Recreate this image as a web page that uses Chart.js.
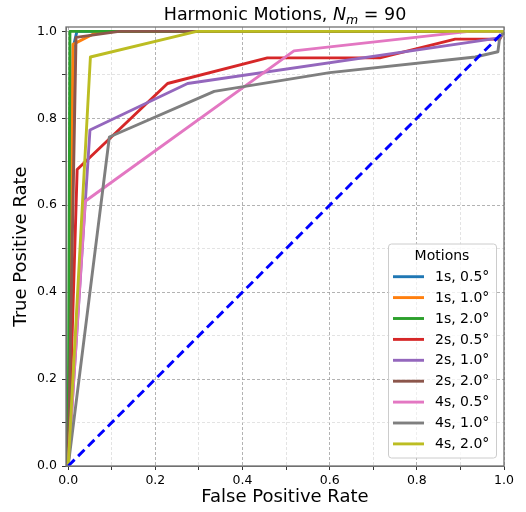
<!DOCTYPE html>
<html><head><meta charset="utf-8">
<script src="https://cdn.jsdelivr.net/npm/chart.js@4"></script>
<style>html,body{margin:0;padding:0;background:#fff;}#wrap{width:526px;height:512px;}</style>
</head><body><div id="wrap"><canvas id="c" width="526" height="512"></canvas></div>
<script>
// ---- data ----
const SERIES_LABELS = ['1s, 0.5°','1s, 1.0°','1s, 2.0°','2s, 0.5°','2s, 1.0°','2s, 2.0°','4s, 0.5°','4s, 1.0°','4s, 2.0°'];
const FPR_1S_05 = [0, 0.012, 0.02, 1.0];
const TPR_1S_05 = [0, 0.965, 1.0, 1.0];
const FPR_1S_10 = [0, 0.011, 0.06, 0.11, 1.0];
const TPR_1S_10 = [0, 0.97, 0.995, 1.0, 1.0];
const FPR_1S_20 = [0, 0.004, 1.0];
const TPR_1S_20 = [0, 1.0, 1.0];
const FPR_2S_05 = [0, 0.0206, 0.228, 0.457, 0.715, 0.888, 0.99, 1.0];
const TPR_2S_05 = [0, 0.682, 0.88, 0.939, 0.939, 0.982, 0.982, 1.0];
const FPR_2S_10 = [0, 0.05, 0.274, 0.99, 1.0];
const TPR_2S_10 = [0, 0.773, 0.88, 0.985, 1.0];
const FPR_2S_20 = [0, 0.018, 0.117, 1.0];
const TPR_2S_20 = [0, 0.986, 1.0, 1.0];
const FPR_4S_05 = [0, 0.039, 0.518, 0.92, 1.0];
const TPR_4S_05 = [0, 0.609, 0.955, 1.0, 1.0];
const FPR_4S_10 = [0, 0.0945, 0.335, 0.6, 0.934, 0.986, 0.99, 1.0];
const TPR_4S_10 = [0, 0.757, 0.862, 0.905, 0.941, 0.953, 0.985, 1.0];
const FPR_4S_20 = [0, 0.051, 0.295, 1.0];
const TPR_4S_20 = [0, 0.941, 1.0, 1.0];
const CHANCE_X = [0, 1];
const CHANCE_Y = [0, 1];
const TICK_VALUES = [0, 0.1, 0.2, 0.3, 0.4, 0.5, 0.6, 0.7, 0.8, 0.9, 1.0];
const TICK_LABELS = ['0.0', '', '0.2', '', '0.4', '', '0.6', '', '0.8', '', '1.0'];
const TITLE_MAIN = 'Harmonic Motions, ';
const TITLE_VAR = 'N';
const TITLE_SUB = 'm';
const TITLE_TAIL = ' = 90';
const LEGEND_TITLE = 'Motions';

// ---- styles ----
const COLORS = ['#1f77b4','#ff7f0e','#2ca02c','#d62728','#9467bd','#8c564b','#e377c2','#7f7f7f','#bcbd22'];
const FONT = 'DejaVu Sans';

const XS = [FPR_1S_05, FPR_1S_10, FPR_1S_20, FPR_2S_05, FPR_2S_10, FPR_2S_20, FPR_4S_05, FPR_4S_10, FPR_4S_20];
const YS = [TPR_1S_05, TPR_1S_10, TPR_1S_20, TPR_2S_05, TPR_2S_10, TPR_2S_20, TPR_4S_05, TPR_4S_10, TPR_4S_20];
const pts = (xs, ys) => xs.map((x, i) => ({x: x, y: ys[i]}));

const LW = 2.9;
const datasets = SERIES_LABELS.map((lab, i) => ({
  label: lab,
  data: pts(XS[i], YS[i]),
  borderColor: COLORS[i],
  backgroundColor: COLORS[i],
  borderWidth: LW,
  showLine: true,
  pointRadius: 0,
  borderJoinStyle: 'round',
  order: 20 - i,
  tension: 0
}));
datasets.push({
  label: '__chance',
  data: pts(CHANCE_X, CHANCE_Y),
  borderColor: '#0000ff',
  borderWidth: LW,
  borderDash: [9, 5],
  showLine: true,
  pointRadius: 0,
  order: 0
});

const gridColor = (ctx) => {
  const v = ctx.tick ? ctx.tick.value : 0;
  const major = Math.abs(v * 5 - Math.round(v * 5)) < 1e-6;
  return major ? '#a0a0a0' : '#dcdcdc';
};

function setTicks(scale) { scale.ticks = TICK_VALUES.map(v => ({value: v})); }
function tickLabel(value, index) { return TICK_LABELS[index]; }

const decor = {
  id: 'decor',
  afterDraw(chart) {
    const ctx = chart.ctx;
    const a = chart.chartArea;
    ctx.save();
    // frame
    ctx.strokeStyle = '#707070';
    ctx.lineWidth = 1.3;
    ctx.strokeRect(a.left, a.top, a.right - a.left, a.bottom - a.top);
    // title
    const big = '17.5px "' + FONT + '"';
    const ital = 'italic 17.5px "' + FONT + '"';
    const sub = 'italic 12.5px "' + FONT + '"';
    ctx.fillStyle = '#000';
    ctx.textBaseline = 'alphabetic';
    ctx.textAlign = 'left';
    ctx.font = big; const w1 = ctx.measureText(TITLE_MAIN).width;
    ctx.font = ital; const w2 = ctx.measureText(TITLE_VAR).width;
    ctx.font = sub; const w3 = ctx.measureText(TITLE_SUB).width;
    ctx.font = big; const w4 = ctx.measureText(TITLE_TAIL).width;
    const cx = (a.left + a.right) / 2;
    let x = cx - (w1 + w2 + w3 + w4) / 2;
    const base = 20;
    ctx.font = big; ctx.fillText(TITLE_MAIN, x, base); x += w1;
    ctx.font = ital; ctx.fillText(TITLE_VAR, x, base); x += w2;
    ctx.font = sub; ctx.fillText(TITLE_SUB, x, base + 3.5); x += w3;
    ctx.font = big; ctx.fillText(TITLE_TAIL, x, base);
    // legend
    const lx = 388.5, ly = 244, lw = 108, lh = 214;
    ctx.beginPath();
    if (ctx.roundRect) ctx.roundRect(lx, ly, lw, lh, 3); else ctx.rect(lx, ly, lw, lh);
    ctx.fillStyle = 'rgba(255,255,255,0.8)';
    ctx.fill();
    ctx.strokeStyle = '#cccccc';
    ctx.lineWidth = 1;
    ctx.stroke();
    ctx.fillStyle = '#000';
    ctx.font = '14px "' + FONT + '"';
    ctx.textAlign = 'center';
    ctx.textBaseline = 'middle';
    ctx.fillText(LEGEND_TITLE, lx + lw / 2 - 0.5, 256.5);
    ctx.textAlign = 'left';
    SERIES_LABELS.forEach((lab, i) => {
      const yy = 276.7 + i * 20.9;
      ctx.strokeStyle = COLORS[i];
      ctx.lineWidth = LW;
      ctx.beginPath();
      ctx.moveTo(393, yy); ctx.lineTo(424, yy);
      ctx.stroke();
      ctx.fillStyle = '#000';
      ctx.fillText(lab, 435, yy + 0.5);
    });
    ctx.restore();
  }
};

new Chart(document.getElementById('c'), {
  type: 'scatter',
  data: { datasets: datasets },
  plugins: [decor],
  options: {
    responsive: false,
    animation: false,
    events: [],
    layout: { padding: { left: 0, right: 22, top: 27, bottom: 0 } },
    plugins: { legend: { display: false }, title: { display: false }, tooltip: { enabled: false } },
    scales: {
      x: {
        type: 'linear', min: -0.005, max: 1.0,
        afterBuildTicks: setTicks,
        afterFit: (s) => { s.height = 46; },
        ticks: { callback: tickLabel, color: '#000', font: { family: FONT, size: 12.5 }, padding: 3, maxRotation: 0, autoSkip: false },
        grid: { color: gridColor, lineWidth: 0.8, tickColor: '#000', tickLength: 4, tickWidth: 0.8 },
        border: { display: true, color: '#707070', dash: [3, 2] },
        title: { display: true, text: 'False Positive Rate', color: '#000', font: { family: FONT, size: 18 }, padding: { top: 0, bottom: 4 } }
      },
      y: {
        type: 'linear', min: 0, max: 1.01,
        afterBuildTicks: setTicks,
        afterFit: (s) => { s.width = 66; },
        ticks: { callback: tickLabel, color: '#000', font: { family: FONT, size: 12.5 }, padding: 5, autoSkip: false },
        grid: { color: gridColor, lineWidth: 0.8, tickColor: '#000', tickLength: 4, tickWidth: 0.8 },
        border: { display: true, color: '#707070', dash: [3, 2] },
        title: { display: true, text: 'True Positive Rate', color: '#000', font: { family: FONT, size: 18 }, padding: { top: 11, bottom: 0 } }
      }
    }
  }
});
</script></body></html>
